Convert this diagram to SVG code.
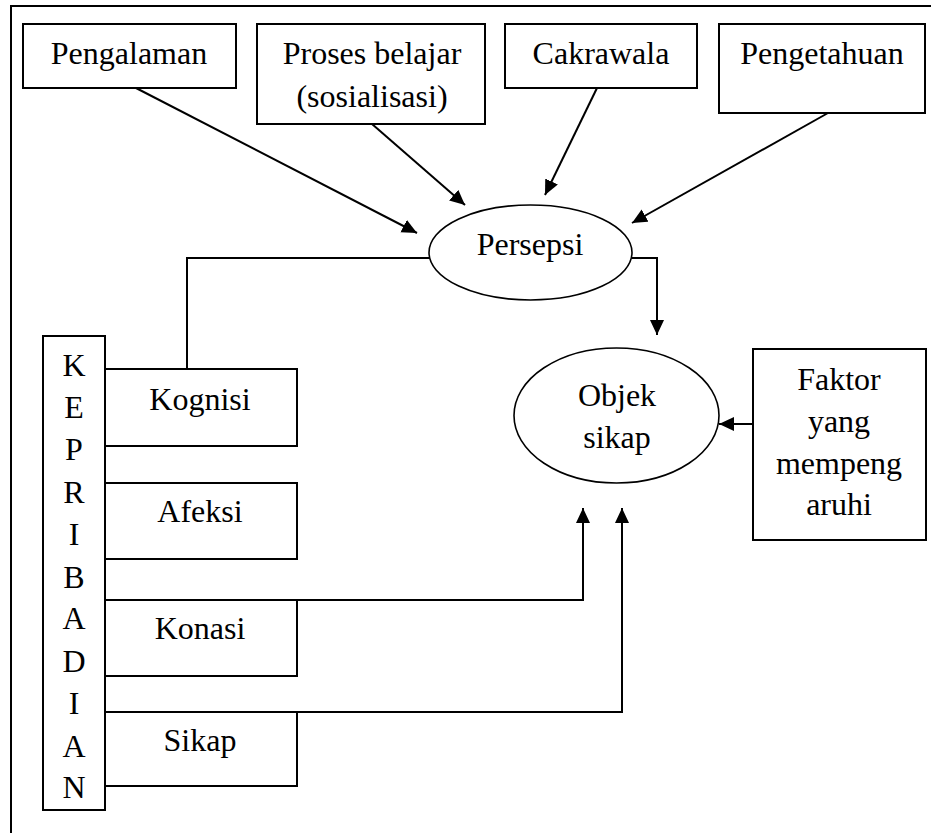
<svg xmlns="http://www.w3.org/2000/svg" width="931" height="833" viewBox="0 0 931 833">
<style>
.box{fill:#fff;stroke:#000;stroke-width:2}
.ell{fill:#fff;stroke:#000;stroke-width:1.6}
.t{font-family:"Liberation Serif","Times New Roman",serif;font-size:32px;fill:#000;text-anchor:middle}
.ln{fill:none;stroke:#000;stroke-width:2}
</style>
<defs>
<marker id="ah" markerUnits="userSpaceOnUse" markerWidth="16" markerHeight="15" refX="15" refY="7" orient="auto" viewBox="0 0 16 15">
<path d="M0,0 L15,7 L0,14 z" fill="#000"/>
</marker>
</defs>
<rect width="931" height="833" fill="#fff"/>
<path d="M11,833 V6 H931" fill="none" stroke="#000" stroke-width="2"/>
<g id="connectors">
<line class="ln" x1="136" y1="88" x2="417" y2="233" marker-end="url(#ah)"/>
<line class="ln" x1="372" y1="124" x2="465" y2="205" marker-end="url(#ah)"/>
<line class="ln" x1="597" y1="88" x2="545" y2="195" marker-end="url(#ah)"/>
<line class="ln" x1="828" y1="113" x2="632" y2="223" marker-end="url(#ah)"/>
<path class="ln" d="M632,258 H657 V335" marker-end="url(#ah)"/>
<path class="ln" d="M430,258 H187 V369"/>
<line class="ln" x1="753" y1="424" x2="719" y2="424" marker-end="url(#ah)"/>
<path class="ln" d="M297,600 H583 V508" marker-end="url(#ah)"/>
<path class="ln" d="M297,712 H622 V508" marker-end="url(#ah)"/>
</g>
<g id="pengalaman"><rect class="box" x="23" y="24" width="213" height="64"/><text class="t" x="129" y="64">Pengalaman</text></g>
<g id="proses"><rect class="box" x="257" y="24" width="228" height="100"/><text class="t" x="372" y="64">Proses belajar</text><text class="t" x="372" y="107">(sosialisasi)</text></g>
<g id="cakrawala"><rect class="box" x="505" y="24" width="192" height="64"/><text class="t" x="601" y="64">Cakrawala</text></g>
<g id="pengetahuan"><rect class="box" x="719" y="24" width="206" height="89"/><text class="t" x="822" y="64">Pengetahuan</text></g>
<g id="persepsi"><ellipse class="ell" cx="530.5" cy="252.5" rx="101.5" ry="47.5"/><text class="t" x="530" y="255">Persepsi</text></g>
<g id="objek"><ellipse class="ell" cx="616.5" cy="415.5" rx="102.5" ry="67.5"/><text class="t" x="617" y="406">Objek</text><text class="t" x="617" y="448">sikap</text></g>
<g id="faktor"><rect class="box" x="753" y="349" width="173" height="191"/><text class="t" x="839" y="390">Faktor</text><text class="t" x="839" y="432">yang</text><text class="t" x="839" y="474">mempeng</text><text class="t" x="839" y="515">aruhi</text></g>
<g id="kepribadian"><rect class="box" x="43" y="336" width="62" height="474"/>
<text class="t" x="74" y="376">K</text><text class="t" x="74" y="418">E</text><text class="t" x="74" y="460">P</text><text class="t" x="74" y="503">R</text><text class="t" x="74" y="545">I</text><text class="t" x="74" y="588">B</text><text class="t" x="74" y="629">A</text><text class="t" x="74" y="672">D</text><text class="t" x="74" y="714">I</text><text class="t" x="74" y="757">A</text><text class="t" x="74" y="798">N</text></g>
<g id="kognisi"><rect class="box" x="105" y="369" width="192" height="77"/><text class="t" x="200" y="410">Kognisi</text></g>
<g id="afeksi"><rect class="box" x="105" y="483" width="192" height="76"/><text class="t" x="200" y="522">Afeksi</text></g>
<g id="konasi"><rect class="box" x="105" y="600" width="192" height="76"/><text class="t" x="200" y="639">Konasi</text></g>
<g id="sikap"><rect class="box" x="105" y="712" width="192" height="74"/><text class="t" x="200" y="751">Sikap</text></g>
</svg>
